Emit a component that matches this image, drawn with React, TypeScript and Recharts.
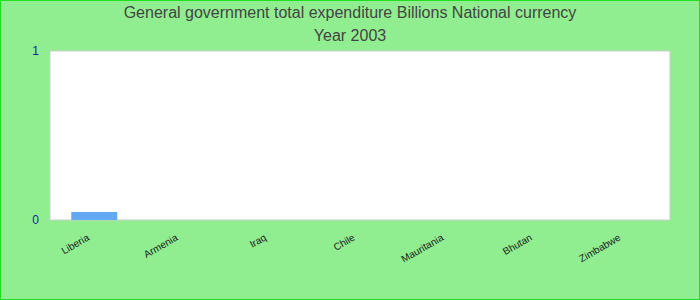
import { Bar, BarChart, CartesianGrid, XAxis, YAxis } from "recharts";

const countries = ["Liberia", "Armenia", "Iraq", "Chile", "Mauritania", "Bhutan", "Zimbabwe"];
const expenditure = [0.047, 0, 0, 0, 0, 0, 0];
const yTicks = [0, 1];

const data = countries.map((name, i) => ({ name, value: expenditure[i] }));

function CountryTick({ x, y, payload }: any) {
  return (
    <text
      x={x}
      y={y}
      dy={9}
      dx={-5}
      textAnchor="end"
      fontSize={10}
      fill="#222"
      fontFamily="Arial, 'Liberation Sans', sans-serif"
      transform={`rotate(-30, ${x}, ${y + 9})`}
    >
      {payload.value}
    </text>
  );
}

export default function App() {
  return (
    <div
      style={{
        position: "absolute",
        left: 0,
        top: 0,
        width: 700,
        height: 300,
        background: "#90EE90",
        outline: "1px solid #1ee01e",
        outlineOffset: -1,
        fontFamily: "Arial, 'Liberation Sans', sans-serif",
      }}
    >
      <div
        style={{
          position: "absolute",
          left: 0,
          width: 700,
          top: 1,
          textAlign: "center",
          fontSize: 16,
          lineHeight: "23px",
          color: "#444",
        }}
      >
        <div>General government total expenditure Billions National currency</div>
        <div>Year 2003</div>
      </div>
      <BarChart
        width={700}
        height={300}
        data={data}
        margin={{ top: 51, right: 30, bottom: 0, left: 0 }}
        barCategoryGap="24%"
        style={{ position: "absolute", left: 0, top: 0 }}
      >
        <CartesianGrid
          fill="#fff"
          stroke="#ccc"
          horizontal
          vertical
          verticalCoordinatesGenerator={({ offset }: any) => [
            offset.left,
            offset.left + offset.width,
          ]}
        />
        <XAxis
          dataKey="name"
          height={80}
          axisLine={false}
          tickLine={false}
          interval={0}
          tick={<CountryTick />}
        />
        <YAxis
          width={50}
          domain={[0, 1]}
          ticks={yTicks}
          axisLine={false}
          tickLine={false}
          tickSize={9}
          tick={{ fontSize: 12, fill: "#1a1aa6" }}
        />
        <Bar dataKey="value" fill="#62a8f2" isAnimationActive={false} />
      </BarChart>
    </div>
  );
}
